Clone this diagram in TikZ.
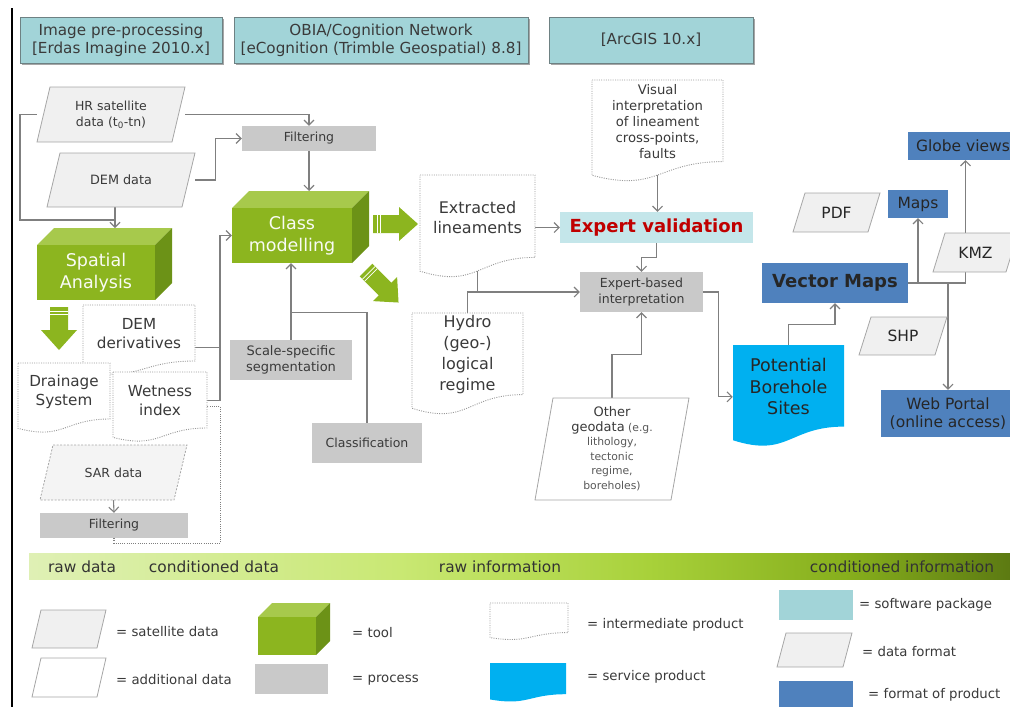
\documentclass[tikz,border=0pt]{standalone}
\usepackage{fontspec}
\setmainfont{DejaVu Sans}
\usetikzlibrary{arrows.meta,shadows,calc}
\pgfdeclarelayer{bg}
\pgfsetlayers{bg,main}
\definecolor{swfill}{HTML}{A2D4D8}
\definecolor{swborder}{HTML}{6E8183}
\definecolor{evfill}{HTML}{C4E6EA}
\definecolor{procfill}{HTML}{C9C9C9}
\definecolor{datafill}{HTML}{F0F0F0}
\definecolor{databorder}{HTML}{A6A6A6}
\definecolor{gfront}{HTML}{8CB51F}
\definecolor{gtop}{HTML}{A7C94C}
\definecolor{gside}{HTML}{6C9217}
\definecolor{prodblue}{HTML}{4F81BD}
\definecolor{servblue}{HTML}{00B0F0}
\definecolor{linegray}{HTML}{7F7F7F}
\definecolor{txt}{HTML}{3A3A3A}
\definecolor{evred}{HTML}{C00000}
\definecolor{ba}{HTML}{DFF0B5}
\definecolor{bb}{HTML}{C9E873}
\definecolor{bc}{HTML}{A8D13A}
\definecolor{bd}{HTML}{86AE1C}
\definecolor{be}{HTML}{5C7A12}
\pgfdeclarehorizontalshading{barshade}{100bp}{color(0bp)=(ba); color(25bp)=(ba); color(43.9bp)=(bb); color(56.6bp)=(bc); color(66.8bp)=(bd); color(75bp)=(be); color(100bp)=(be)}
\newcommand{\myfs}[2]{\fontsize{#1}{#2}\selectfont}
% rectangle node: style, name, x1,y1,x2,y2, text
\newcommand{\rbox}[7]{\node[#1, minimum width={(#5-#3)*1pt}, minimum height={(#6-#4)*1pt}, inner sep=0pt, align=center] (#2) at ({(#3+#5)/2},{(#4+#6)/2}) {#7};}
% parallelogram: shape style, slant, name, x1,y1,x2,y2, node style, text
\newcommand{\pgram}[9]{%
 \draw[#1] ({#4+#2},#5) -- (#6,#5) -- ({#6-#2},#7) -- (#4,#7) -- cycle;
 \node[tonly, minimum width={(#6-#4)*1pt}, minimum height={(#7-#5)*1pt}, #8] (#3) at ({(#4+#6)/2},{(#5+#7)/2}) {#9};}
% document: shape style, name, x1,y1,x2,y2, node style, text
\newcommand{\docu}[8]{%
 \draw[#1] (#3,#4) -- (#5,#4) -- (#5,{#4+0.8*(#6-#4)}) .. controls ({(#3+#5)/2},{#4+0.8*(#6-#4)}) and ({(#3+#5)/2},{#4+1.107*(#6-#4)}) .. (#3,{#4+0.934*(#6-#4)}) -- cycle;
 \node[tonly, minimum width={(#5-#3)*1pt}, minimum height={0.82*(#6-#4)*1pt}, #7] (#2) at ({(#3+#5)/2},{#4+0.41*(#6-#4)}) {#8};}
% cube: name, x1,y1,x2,y2 (front), depth, node style, text
\newcommand{\cube}[8]{%
 \fill[gtop] (#2,#3) -- ({#2+#6},{#3-#6}) -- ({#4+#6},{#3-#6}) -- (#4,#3) -- cycle;
 \fill[gside] (#4,#3) -- ({#4+#6},{#3-#6}) -- ({#4+#6},{#5-#6}) -- (#4,#5) -- cycle;
 \node[fill=gfront, text=white!95!gfront, inner sep=0pt, align=center, minimum width={(#4-#2)*1pt}, minimum height={(#5-#3)*1pt}, #7] (#1) at ({(#2+#4)/2},{(#3+#5)/2}) {#8};
 \coordinate (#1-t) at ({(#2+#4)/2},{#3-#6});}
\tikzset{
 tonly/.style={inner sep=0pt, align=center, text=txt},
 swbox/.style={fill=swfill, draw=swborder, line width=0.8pt, text=txt, font=\myfs{15.2}{18},
   drop shadow={shadow xshift=1.8pt, shadow yshift=-1.8pt, fill=black, opacity=0.35}},
 proc/.style={fill=procfill, text=txt, font=\myfs{12.5}{15.5}},
 datashape/.style={fill=datafill, draw=databorder, line width=0.8pt},
 addshape/.style={fill=white, draw=databorder, line width=0.8pt},
 sarshape/.style={fill=datafill!70!white, draw=databorder, line width=0.8pt, dash pattern=on 2pt off 1.5pt},
 interm/.style={fill=white, draw=gray!80, line width=0.9pt, dash pattern=on 1pt off 1.3pt},
 serv/.style={fill=servblue, draw=none},
 prod/.style={fill=prodblue, text=black!85, font=\myfs{15.5}{18.5}},
 cline/.style={draw=linegray, line width=1.1pt},
 conn/.style={draw=linegray, line width=1.1pt, -{Straight Barb[length=5pt,width=10pt]}},
 garrow/.style={fill=gfront},
 stripe/.style={draw=white, line width=0.8pt},
 legtext/.style={anchor=west, text=txt, font=\myfs{13.3}{16}, inner sep=0pt},
 bartext/.style={text=black!80, font=\myfs{15.4}{18}, inner sep=0pt}
}
\begin{document}
\begin{tikzpicture}[x=1pt,y=-1pt]
\clip (0,0) rectangle (1010,707);
\draw[black, line width=1.2pt] (12,8) -- (12,707);

% software packages
\rbox{swbox}{sw1}{20}{17}{222}{63}{Image pre-processing\\{}[Erdas Imagine 2010.x]}
\rbox{swbox}{sw2}{234}{17}{528}{63}{OBIA/Cognition Network\\{}[eCognition (Trimble Geospatial) 8.8]}
\rbox{swbox}{sw3}{549}{17}{753}{63}{[ArcGIS 10.x]}

% left column
\pgram{datashape}{13}{hr}{37}{87}{185}{142}{font=\myfs{12.5}{16}}{HR satellite\\data (t\textsubscript{0}-tn)}
\pgram{datashape}{13}{dem}{47}{153}{195}{207}{font=\myfs{12.8}{16}}{DEM data}
\rbox{proc}{filt1}{242}{126}{376}{151}{Filtering}
\cube{sa}{37}{245}{155}{300}{17}{font=\myfs{17.5}{22}}{Spatial\\Analysis}
\cube{cm}{232}{208}{352}{263}{17}{font=\myfs{17.5}{22}}{Class\\modelling}
\docu{interm}{demd}{83}{305}{195}{375}{font=\myfs{15.2}{19.5}}{DEM\\derivatives}
\docu{interm}{drain}{18}{363}{110}{433}{font=\myfs{15.2}{19.5}}{Drainage\\System}
\docu{interm}{wet}{113}{372}{207}{442}{font=\myfs{15.2}{19.5}}{Wetness\\index}
\pgram{sarshape}{13}{sar}{40}{445}{187}{500}{font=\myfs{12.5}{15}}{SAR data}
\rbox{proc}{filt2}{40}{513}{188}{538}{Filtering}
\rbox{proc, font=\myfs{13}{16}}{seg}{230}{340}{352}{380}{Scale-specific\\segmentation}
\rbox{proc}{cls}{312}{423}{422}{463}{Classification}

% green block arrows
\fill[garrow] (50,307) -- (68,307) -- (68,330) -- (77,330) -- (59,350) -- (41,330) -- (50,330) -- cycle;
\draw[stripe] (50,311) -- (68,311) (50,314) -- (68,314);
\fill[garrow] (373,215) -- (399,215) -- (399,207) -- (418,224) -- (399,241) -- (399,233) -- (373,233) -- cycle;
\draw[stripe] (377,215) -- (377,233) (380,215) -- (380,233);
\begin{scope}[shift={(366,270)}, rotate=-45]
\fill[garrow] (0,-9) -- (27,-9) -- (27,-17) -- (46,0) -- (27,17) -- (27,9) -- (0,9) -- cycle;
\draw[stripe] (4,-9) -- (4,9) (7,-9) -- (7,9);
\end{scope}

% middle
\docu{interm}{ext}{420}{175}{535}{278}{font=\myfs{16}{20}}{Extracted\\lineaments}
\docu{interm}{hyd}{412}{313}{523}{415}{font=\myfs{16}{21}}{Hydro\\(geo-)\\logical\\regime}
\docu{interm}{vis}{592}{80}{723}{182}{font=\myfs{13.2}{16}}{Visual\\interpretation\\of lineament\\cross-points,\\faults}
\rbox{fill=evfill, text=evred, font=\bfseries\myfs{18}{21}}{ev}{560}{212}{753}{243}{Expert validation}
\rbox{proc}{ebi}{580}{272}{703}{312}{Expert-based\\interpretation}
\pgram{addshape}{18}{geo}{535}{398}{689}{500}{font=\myfs{10.8}{14.5}, text=black!65}{{\color{txt}\myfs{13}{15}Other}\\{\color{txt}\myfs{13}{15}geodata} (e.g.\\lithology,\\tectonic\\regime,\\boreholes)}

% right
\docu{serv}{pbs}{733}{345}{844}{447}{font=\myfs{17.5}{21.5}, text=black!85}{Potential\\Borehole\\Sites}
\rbox{prod, font=\bfseries\myfs{18}{21}}{vm}{762}{263}{908}{303}{Vector Maps}
\pgram{datashape}{12}{pdf}{793}{193}{880}{232}{font=\myfs{15.5}{18}, text=black!85}{PDF}
\rbox{prod}{maps}{888}{190}{948}{218}{Maps}
\rbox{prod}{globe}{908}{132}{1018}{160}{Globe views}
\pgram{datashape}{12}{kmz}{933}{233}{1018}{272}{font=\myfs{15.5}{18}, text=black!85}{KMZ}
\pgram{datashape}{12}{shp}{859}{317}{947}{355}{font=\myfs{15.5}{18}, text=black!85}{SHP}
\rbox{prod}{web}{881}{390}{1015}{437}{Web Portal\\(online access)}

% connectors
\begin{pgfonlayer}{bg}
\draw[conn] (hr.east) -| (filt1.north);
\draw[conn] (dem.east) -- ++(20,0) |- (filt1.west);
\draw[conn] (filt1.south) -- (filt1.south |- cm-t);
\coordinate (k1) at (20,220);
\coordinate (sain) at (115,228);
\draw[cline] (hr.west) -| (k1) -- (k1 -| sain);
\draw[conn] (dem.south -| sain) -- (sain);
\coordinate (v1) at (220,300);
\draw[conn] (wet.east) -- (wet.east -| v1) -- (v1 |- cm.west) -- (cm.west);
\draw[cline] (demd.east) ++(0,14) -- ++(25,0);
\draw[cline, dash pattern=on 1pt off 1.2pt] (filt2.south) -- ++(0,5) -| ($(wet.east)+(13,6)$) -- ($(wet.east)+(0,6)$);
\draw[conn] (sar.south) -- (filt2.north);
\draw[conn] (seg.north) -- (seg.north |- cm.south);
\draw[cline] (cls.north) |- ($(seg.north)+(0,-27)$);
\draw[conn] (ev.west -| ext.east) -- (ev.west);
\draw[conn] (vis.south) -- (vis.south |- ev.north);
\draw[conn] (ev.south) -- ++(0,14) -| (ebi.north);
\draw[conn] (ext.south) |- (ebi.west);
\draw[cline] (hyd.north) |- ($(ebi.west)+(-100,0)$);
\draw[conn] (geo.north) -- ++(0,-43) -| (ebi.south);
\draw[conn] (ebi.east) -- ++(15,0) |- ($(pbs.west)+(0,10)$);
\draw[conn] (pbs.north) -- ++(0,-20) -| (vm.south);
\draw[cline] (vm.east) -| ($(kmz.south)+(-10,0)$);
\coordinate (kt) at ($(kmz.north)+(-10,0)$);
\draw[conn] (kt) -- (kt |- globe.south);
\draw[conn] (vm.east -| maps.south) -- (maps.south);
\draw[conn] (vm.east -| web.north) -- (web.north);
\end{pgfonlayer}

% gradient bar
\shade[shading=barshade] (29,553) rectangle (1010,579);
\node[bartext] (b1) at (82,567) {raw data};
\node[bartext] (b2) at (214,567) {conditioned data};
\node[bartext] (b3) at (500,567) {raw information};
\node[bartext] (b4) at (902,567) {conditioned information};

% legend
\pgram{datashape}{9}{lsat}{32}{610}{106}{648}{}{}
\node[legtext] (tsat) at (116,632) {= satellite data};
\pgram{addshape}{9}{ladd}{32}{658}{106}{697}{}{}
\node[legtext] (tadd) at (116,680) {= additional data};
\cube{ltool}{258}{617}{316}{655}{14}{}{}
\node[legtext] (ttool) at (352,633) {= tool};
\rbox{proc}{lproc}{255}{664}{328}{694}{}
\node[legtext] (tproc) at (352,680) {= process};
\docu{interm}{lint}{490}{603}{568}{640}{}{}
\node[legtext] (tint) at (587,625) {= intermediate product};
\docu{serv}{lserv}{490}{663}{566}{702}{}{}
\node[legtext] (tserv) at (587,677) {= service product};
\rbox{fill=swfill}{lsw}{779}{590}{853}{620}{}
\node[legtext] (tsw) at (859,605) {= software package};
\pgram{datashape}{9}{ldf}{777}{633}{852}{667}{}{}
\node[legtext] (tdf) at (862,652) {= data format};
\rbox{fill=prodblue}{lprod}{779}{681}{853}{710}{}
\node[legtext] (tprod) at (868,695) {= format of product};
\end{tikzpicture}
\end{document}
